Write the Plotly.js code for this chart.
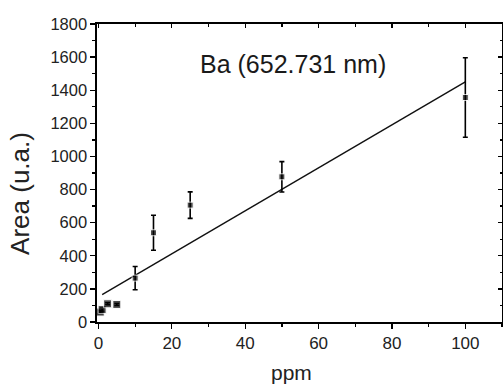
<!DOCTYPE html>
<html><head><meta charset="utf-8">
<script src="https://cdn.plot.ly/plotly-3.0.1.min.js"></script>
<style>html,body{margin:0;padding:0;background:#fff}</style></head>
<body><div id="chart" style="width:503px;height:387px"></div>
<script>
// Measured points (ppm vs. area) with error bars
const ppm  = [0.5, 1, 2.5, 5, 10, 15, 25, 50, 100];
const area = [60, 75, 110, 106, 265, 539, 706, 877, 1356];
const areaErr = [8, 10, 6, 6, 70, 106, 80, 92, 240];
// Linear fit line endpoints
const fitPpm  = [1, 100];
const fitArea = [165, 1451];
// Axis ticks
const xTickVals = [0, 20, 40, 60, 80, 100];
const yTickVals = [0, 200, 400, 600, 800, 1000, 1200, 1400, 1600, 1800];
const titleText = 'Ba (652.731 nm)';
const xLabel = 'ppm';
const yLabel = 'Area (u.a.)';

const font = 'Arial, "Liberation Sans", sans-serif';
const markerSizes = ppm.map(p => (p <= 5 ? 8 : 6));
const traces = [
  {x: fitPpm, y: fitArea, type: 'scatter', mode: 'lines',
   line: {color: '#111', width: 1.4}, hoverinfo: 'skip'},
  {x: ppm, y: area, type: 'scatter', mode: 'markers',
   marker: {symbol: 'square', size: markerSizes, color: '#000'},
   error_y: {type: 'data', array: areaErr, visible: true, color: '#000', thickness: 1.6, width: 2.5}}
];
const layout = {
  width: 503, height: 387,
  margin: {l: 97, r: 1, t: 24, b: 65},
  paper_bgcolor: '#fff', plot_bgcolor: '#fff',
  showlegend: false,
  font: {family: font, color: '#222'},
  xaxis: {range: [-0.4, 110], tickvals: xTickVals, ticks: 'outside', ticklen: 5, tickwidth: 1.3,
          tickcolor: '#000', showline: true, linecolor: '#000', linewidth: 1.6, mirror: true,
          showgrid: false, zeroline: false, tickfont: {size: 17, color: '#222'},
          minor: {dtick: 10, tick0: 0, ticks: 'outside', ticklen: 3, tickwidth: 1.3, tickcolor: '#000', showgrid: false}},
  yaxis: {range: [0, 1800], tickvals: yTickVals, ticks: 'outside', ticklen: 5, tickwidth: 1.3,
          tickcolor: '#000', showline: true, linecolor: '#000', linewidth: 1.6, mirror: true,
          showgrid: false, zeroline: false, tickfont: {size: 16.5, color: '#222'},
          minor: {dtick: 100, tick0: 0, ticks: 'outside', ticklen: 3, tickwidth: 1.3, tickcolor: '#000', showgrid: false}},
  xaxis2: {overlaying: 'x', side: 'top', range: [-0.4, 110], tickvals: xTickVals, ticks: 'inside', ticklen: 4,
           tickwidth: 1.3, tickcolor: '#000', showticklabels: false, showgrid: false, zeroline: false, showline: false,
           minor: {dtick: 10, tick0: 0, ticks: 'inside', ticklen: 2.5, tickwidth: 1.3, tickcolor: '#000', showgrid: false}},
  yaxis2: {overlaying: 'y', side: 'right', range: [0, 1800], tickvals: yTickVals, ticks: 'inside', ticklen: 4,
           tickwidth: 1.3, tickcolor: '#000', showticklabels: false, showgrid: false, zeroline: false, showline: false,
           minor: {dtick: 100, tick0: 0, ticks: 'inside', ticklen: 2.5, tickwidth: 1.3, tickcolor: '#000', showgrid: false}},
  annotations: [
    {text: titleText, xref: 'paper', yref: 'paper', x: 0.484, y: 0.866,
     xanchor: 'center', yanchor: 'middle', showarrow: false,
     font: {size: 25, color: '#1a1a1a', family: font}},
    {text: xLabel, xref: 'paper', yref: 'paper', x: 0.481, y: -0.17,
     xanchor: 'center', yanchor: 'middle', showarrow: false,
     font: {size: 21, color: '#222', family: font}},
    {text: yLabel, xref: 'paper', yref: 'paper', x: -0.19, y: 0.43, textangle: -90,
     xanchor: 'center', yanchor: 'middle', showarrow: false,
     font: {size: 26, color: '#222', family: font}}
  ]
};
// dummy trace to activate the mirrored inner-tick axes
traces.push({x: [null], y: [null], xaxis: 'x2', yaxis: 'y2', type: 'scatter', mode: 'markers', hoverinfo: 'skip', showlegend: false});
Plotly.newPlot('chart', traces, layout, {displayModeBar: false, staticPlot: true});
</script></body></html>
